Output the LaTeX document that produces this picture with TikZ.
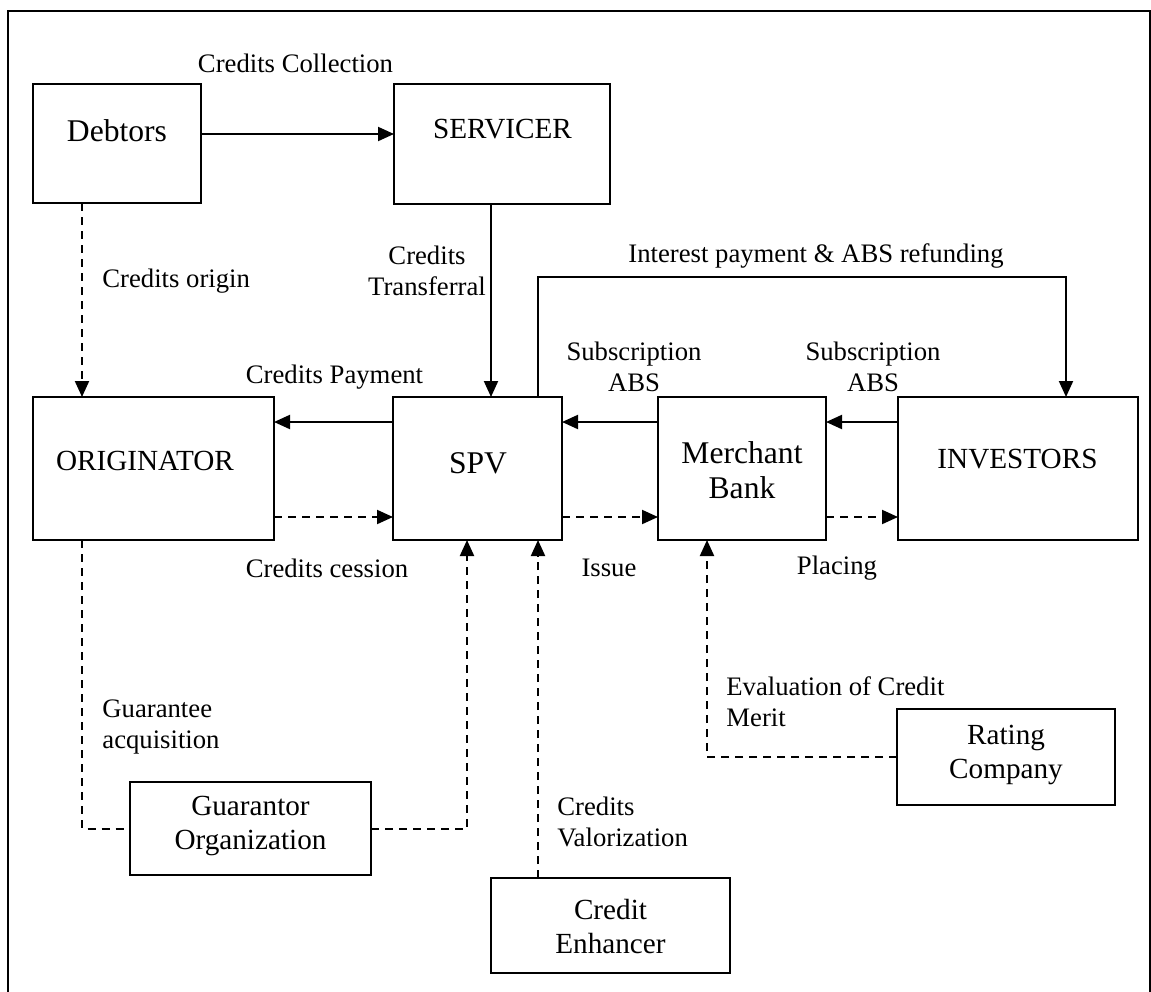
\documentclass[tikz,border=0pt]{standalone}
\usepackage{fontspec}
\setmainfont{Liberation Serif}
\usetikzlibrary{arrows.meta,calc}
\begin{document}
\begin{tikzpicture}[x=0.5pt,y=-0.5pt,
  bx/.style 2 args={draw, line width=1pt, rectangle, inner sep=0pt, outer sep=0pt,
    minimum width=#1*0.5pt, minimum height=#2*0.5pt},
  arr/.style={line width=1pt, -{Triangle[length=8pt,width=7pt]}},
  dsh/.style={line width=1pt, dash pattern=on 4pt off 3pt, -{Triangle[length=8pt,width=7pt]}},
  dline/.style={line width=1pt, dash pattern=on 4pt off 3pt},
  lbl/.style={font=\fontsize{13.35}{15.5}\selectfont, inner sep=0pt, align=center},
  lbll/.style={font=\fontsize{13.35}{15.5}\selectfont, inner sep=0pt, align=left, anchor=west},
  btx/.style={font=\fontsize{14.6}{17}\selectfont, inner sep=0pt, align=center},
  btxb/.style={font=\fontsize{15.8}{17.5}\selectfont, inner sep=0pt, align=center}]
\useasboundingbox (0,0) rectangle (1151,991);
% frame
\draw[line width=1pt] (8,1000) -- (8,11) -- (1150,11) -- (1150,1000);

% boxes
\node[bx={168}{119}] (deb) at (117,143.5) {};
\node[bx={216}{120}] (ser) at (502,144) {};
\node[bx={241}{143}] (ori) at (153.5,468.5) {};
\node[bx={169}{143}] (spv) at (477.5,468.5) {};
\node[bx={168}{143}] (mb) at (742,468.5) {};
\node[bx={240}{143}] (inv) at (1018,468.5) {};
\node[bx={241}{93}] (gua) at (250.5,828.5) {};
\node[bx={239}{95}] (ce) at (610.5,925.5) {};
\node[bx={218}{96}] (rc) at (1006,757) {};

% box texts
\node[btxb] (tdeb) at (117,131) {Debtors};
\node[btx] (tser) at (502.5,129) {SERVICER};
\node[btx] (tori) at (145,461) {ORIGINATOR};
\node[btxb] (tspv) at (478,463) {SPV};
\node[btxb] (tmb) at (742,470) {Merchant\\Bank};
\node[btx] (tinv) at (1017.5,459) {INVESTORS};
\node[btx] (tgua) at (250.5,826) {Guarantor\\Organization};
\node[btx] (tce) at (610.5,926) {Credit\\Enhancer};
\node[btx] (trc) at (1006,755) {Rating\\Company};

% connectors
\draw[arr] (deb.east |- 0,134) -- (ser.west |- 0,134);
\draw[arr] (ser.south -| 491,0) -- (spv.north -| 491,0);
\draw[dsh] (deb.south -| 82,0) -- (ori.north -| 82,0);
\draw[arr] (spv.west |- 0,422) -- (ori.east |- 0,422);
\coordinate (ip) at (1066,277);
\draw[arr] (spv.north -| 538,0) |- (ip) -- (inv.north -| ip);
\draw[arr] (mb.west |- 0,422) -- (spv.east |- 0,422);
\draw[arr] (inv.west |- 0,422) -- (mb.east |- 0,422);
\draw[dsh] (ori.east |- 0,517) -- (spv.west |- 0,517);
\draw[dsh] (spv.east |- 0,517) -- (mb.west |- 0,517);
\draw[dsh] (mb.east |- 0,517) -- (inv.west |- 0,517);
\draw[dline] (ori.south -| 82,0) |- (gua.west);
\draw[dsh] (gua.east) -| (spv.south -| 467,0);
\draw[dsh] (ce.north -| 538,0) -- (spv.south -| 538,0);
\draw[dsh] (rc.west) -| (mb.south -| 707,0);

% labels
\node[lbl] (lcc) at (295.5,63) {Credits Collection};
\node[lbll] (lco) at (102,281) {Credits origin};
\node[lbl] (lct) at (427,271) {Credits\\Transferral};
\node[lbl] (lcp) at (334.5,377) {Credits Payment};
\node[lbl] (lip) at (816,256) {Interest payment \& ABS refunding};
\node[lbl] (ls1) at (634,367) {Subscription\\ABS};
\node[lbl] (ls2) at (873,367) {Subscription\\ABS};
\node[lbl] (lces) at (327,568) {Credits cession};
\node[lbl] (liss) at (609,568) {Issue};
\node[lbl] (lpl) at (837,568) {Placing};
\node[lbll] (lga) at (102,727) {Guarantee\\acquisition};
\node[lbll] (lcv) at (557,822) {Credits\\Valorization};
\node[lbll] (lev) at (726,702) {Evaluation of Credit\\Merit};
\end{tikzpicture}
\end{document}
